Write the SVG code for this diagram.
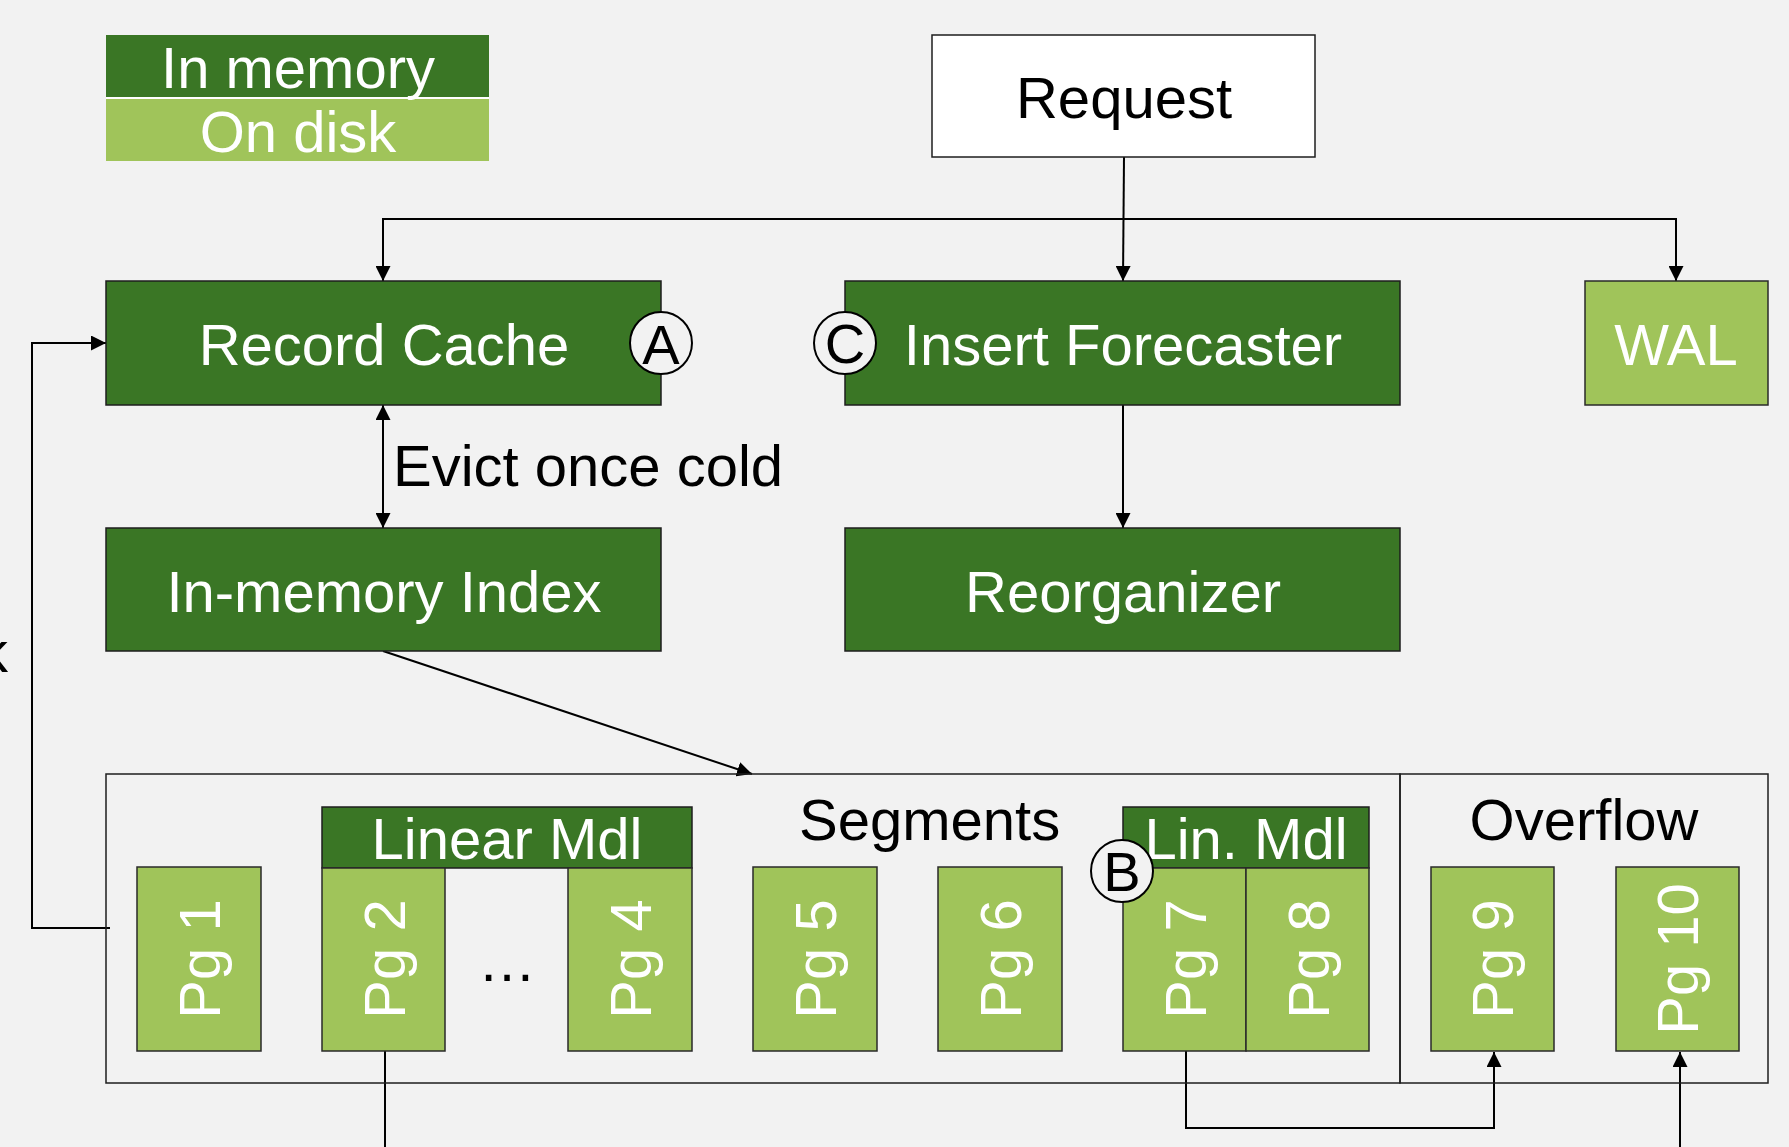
<svg xmlns="http://www.w3.org/2000/svg" width="1789" height="1147" viewBox="0 0 1789 1147">
<style>
.dk{fill:#3A7625;stroke:#1E1E1E;stroke-width:1.5}
.lt{fill:#A0C45A;stroke:#2A2A2A;stroke-width:1.5}
.t{font-family:"Liberation Sans",Arial,sans-serif;font-size:58px;text-anchor:middle}
.w{fill:#FFFFFF}
.b{fill:#000000}
.conn{stroke:#000;stroke-width:2;fill:none}
.circ{fill:#F2F2F2;stroke:#000;stroke-width:2}
.frame{fill:none;stroke:#1E1E1E;stroke-width:1.5}
</style>
<defs>
<marker id="arr" markerWidth="15" markerHeight="15" refX="15" refY="7.5" orient="auto-start-reverse" markerUnits="userSpaceOnUse">
<path d="M0,0 L15,7.5 L0,15 z" fill="#000"/>
</marker>
</defs>
<rect x="0" y="0" width="1789" height="1147" fill="#F2F2F2"/>

<g id="legend">
<rect x="106" y="35" width="383" height="62" fill="#3A7625"/>
<rect x="106" y="99" width="383" height="62" fill="#A0C45A"/>
<line x1="106" y1="98" x2="489" y2="98" stroke="#FFFFFF" stroke-width="2"/>
<text class="t w" x="298" y="88">In memory</text>
<text class="t w" x="298" y="152">On disk</text>
</g>

<g id="cutoff-label">
<text class="t b" x="-21" y="672" style="text-anchor:start">k</text>
</g>

<g id="connectors">
<line class="conn" x1="1124" y1="157" x2="1123" y2="281" marker-end="url(#arr)"/>
<polyline class="conn" points="383,281 383,219 1676,219 1676,281" marker-start="url(#arr)" marker-end="url(#arr)"/>
<line class="conn" x1="383" y1="405" x2="383" y2="528" marker-start="url(#arr)" marker-end="url(#arr)"/>
<line class="conn" x1="1123" y1="405" x2="1123" y2="528" marker-end="url(#arr)"/>
<line class="conn" x1="383" y1="651" x2="752" y2="774" marker-end="url(#arr)"/>
<polyline class="conn" points="110,928 32,928 32,343 106,343" marker-end="url(#arr)"/>
<line class="conn" x1="385" y1="1051" x2="385" y2="1147"/>
<polyline class="conn" points="1186,1051 1186,1128 1494,1128 1494,1052" marker-end="url(#arr)"/>
<line class="conn" x1="1680" y1="1147" x2="1680" y2="1052" marker-end="url(#arr)"/>
</g>

<g id="evict-label">
<text class="t b" x="393" y="486" style="text-anchor:start">Evict once cold</text>
</g>

<g id="request">
<rect x="932" y="35" width="383" height="122" fill="#FFFFFF" stroke="#1E1E1E" stroke-width="1.5"/>
<text class="t b" x="1124" y="118">Request</text>
</g>

<g id="record-cache">
<rect class="dk" x="106" y="281" width="555" height="124"/>
<text class="t w" x="384" y="365">Record Cache</text>
<circle class="circ" cx="661" cy="343" r="31"/>
<text class="t b" x="661" y="364" style="font-size:56px">A</text>
</g>

<g id="insert-forecaster">
<rect class="dk" x="845" y="281" width="555" height="124"/>
<text class="t w" x="1123" y="365">Insert Forecaster</text>
<circle class="circ" cx="845" cy="343" r="31"/>
<text class="t b" x="845" y="363" style="font-size:56px">C</text>
</g>

<g id="wal">
<rect class="lt" x="1585" y="281" width="183" height="124"/>
<text class="t w" x="1676" y="365">WAL</text>
</g>

<g id="in-memory-index">
<rect class="dk" x="106" y="528" width="555" height="123"/>
<text class="t w" x="384" y="612">In-memory Index</text>
</g>

<g id="reorganizer">
<rect class="dk" x="845" y="528" width="555" height="123"/>
<text class="t w" x="1123" y="612">Reorganizer</text>
</g>

<g id="segments">
<rect class="frame" x="106" y="774" width="1294" height="309"/>
<text class="t b" x="799" y="840" style="text-anchor:start">Segments</text>
</g>

<g id="overflow">
<rect class="frame" x="1400" y="774" width="368" height="309"/>
<text class="t b" x="1584" y="840">Overflow</text>
</g>

<g id="pg1">
<rect class="lt" x="137" y="867" width="124" height="184"/>
<text class="t w" x="220" y="959" transform="rotate(-90 220 959)">Pg 1</text>
</g>

<g id="linear-mdl">
<rect class="dk" x="322" y="807" width="370" height="61"/>
<text class="t w" x="507" y="859">Linear Mdl</text>
</g>

<g id="pg2">
<rect class="lt" x="322" y="868" width="123" height="183"/>
<text class="t w" x="405" y="959" transform="rotate(-90 405 959)">Pg 2</text>
</g>

<g id="ellipsis">
<text class="t b" x="507" y="981">…</text>
</g>

<g id="pg4">
<rect class="lt" x="568" y="868" width="124" height="183"/>
<text class="t w" x="651" y="959" transform="rotate(-90 651 959)">Pg 4</text>
</g>

<g id="pg5">
<rect class="lt" x="753" y="867" width="124" height="184"/>
<text class="t w" x="836" y="959" transform="rotate(-90 836 959)">Pg 5</text>
</g>

<g id="pg6">
<rect class="lt" x="938" y="867" width="124" height="184"/>
<text class="t w" x="1021" y="959" transform="rotate(-90 1021 959)">Pg 6</text>
</g>

<g id="lin-mdl">
<rect class="dk" x="1123" y="807" width="246" height="61"/>
<text class="t w" x="1246" y="859">Lin. Mdl</text>
</g>

<g id="pg7">
<rect class="lt" x="1123" y="868" width="123" height="183"/>
<text class="t w" x="1206" y="959" transform="rotate(-90 1206 959)">Pg 7</text>
</g>

<g id="pg8">
<rect class="lt" x="1246" y="868" width="123" height="183"/>
<text class="t w" x="1329" y="959" transform="rotate(-90 1329 959)">Pg 8</text>
</g>

<g id="marker-b">
<circle class="circ" cx="1122" cy="871" r="31"/>
<text class="t b" x="1122" y="891" style="font-size:56px">B</text>
</g>

<g id="pg9">
<rect class="lt" x="1431" y="867" width="123" height="184"/>
<text class="t w" x="1513" y="959" transform="rotate(-90 1513 959)">Pg 9</text>
</g>

<g id="pg10">
<rect class="lt" x="1616" y="867" width="123" height="184"/>
<text class="t w" x="1698" y="959" transform="rotate(-90 1698 959)">Pg 10</text>
</g>
</svg>
